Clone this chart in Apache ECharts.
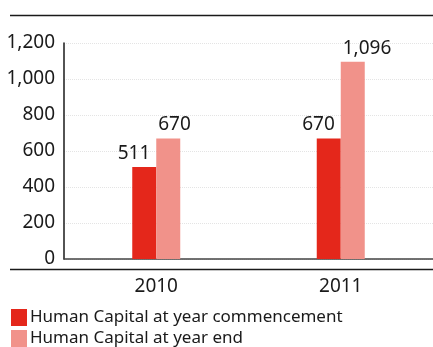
<!DOCTYPE html>
<html>
<head>
<meta charset="utf-8">
<script src="https://cdn.jsdelivr.net/npm/echarts@6/dist/echarts.min.js"></script>
<style>
html,body{margin:0;padding:0;background:#fff;}
#chart{width:433px;height:347px;}
</style>
</head>
<body>
<div id="chart"></div>
<script>
// Human Capital, 2010–2011
const years = ['2010', '2011'];
const atCommencement = [511, 670];
const atYearEnd = [670, 1096];
const seriesNames = ['Human Capital at year commencement', 'Human Capital at year end'];
const yTicks = [0, 200, 400, 600, 800, 1000, 1200];

const RED = '#E4271B';
const PINK = '#F1928A';
const FONT = 'Noto Sans';
const fmt = v => String(v).replace(/\B(?=(\d{3})+(?!\d))/g, ',');

const chart = echarts.init(document.getElementById('chart'));
chart.setOption({
  animation: false,
  textStyle: { fontFamily: FONT, color: '#1a1a1a' },
  grid: { left: 64, top: 43, width: 372, height: 216, containLabel: false },
  legend: {
    orient: 'vertical',
    left: 11,
    top: 309,
    itemWidth: 16,
    itemHeight: 17,
    itemGap: 4,
    icon: 'rect',
    padding: 0,
    textStyle: { fontFamily: FONT, fontSize: 17, color: '#1a1a1a', padding: [2, 0, 0, -2] },
    data: seriesNames
  },
  xAxis: {
    type: 'category',
    data: years,
    axisLine: { lineStyle: { color: '#444', width: 1.5 } },
    axisTick: { show: false },
    axisLabel: { fontSize: 19, color: '#1a1a1a', margin: 18, fontFamily: FONT }
  },
  yAxis: {
    type: 'value',
    min: yTicks[0],
    max: yTicks[yTicks.length - 1],
    interval: yTicks[1] - yTicks[0],
    axisLine: { show: true, lineStyle: { color: '#1a1a1a', width: 1.5 } },
    axisTick: { show: false },
    axisLabel: { fontSize: 19, color: '#1a1a1a', margin: 9, formatter: fmt, fontFamily: FONT },
    splitLine: { show: true, lineStyle: { color: '#e4e4e4', type: 'dotted', width: 1 } }
  },
  series: [
    {
      name: seriesNames[0],
      type: 'bar',
      data: atCommencement,
      barWidth: 24,
      barGap: '0%',
      itemStyle: { color: RED },
      label: {
        show: true, position: 'top', align: 'right', offset: [6, 1],
        fontSize: 19, color: '#1a1a1a', formatter: p => fmt(p.value), fontFamily: FONT
      }
    },
    {
      name: seriesNames[1],
      type: 'bar',
      data: atYearEnd,
      barWidth: 24,
      barGap: '0%',
      itemStyle: { color: PINK },
      label: {
        show: true, position: 'top', align: 'left', offset: [-10, 1],
        fontSize: 19, color: '#1a1a1a', formatter: p => fmt(p.value), fontFamily: FONT
      }
    }
  ],
  graphic: [
    { type: 'line', shape: { x1: 10, y1: 15.5, x2: 433, y2: 15.5 }, style: { stroke: '#1a1a1a', lineWidth: 1.5 } },
    { type: 'line', shape: { x1: 10, y1: 269.5, x2: 433, y2: 269.5 }, style: { stroke: '#1a1a1a', lineWidth: 1.5 } }
  ]
});
</script>
</body>
</html>
